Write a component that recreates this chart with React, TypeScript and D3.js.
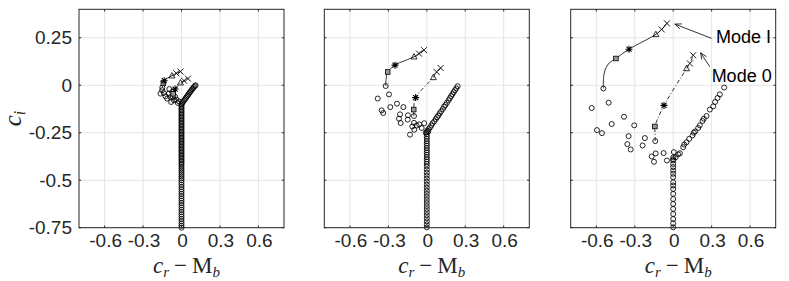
import * as d3 from "d3";
import { useEffect, useRef } from "react";

type Pt = [number, number];

const xTicks = [-0.6, -0.3, 0, 0.3, 0.6];
const xTickLabels = ["-0.6", "-0.3", "0", "0.3", "0.6"];
const yTicks = [0.25, 0, -0.25, -0.5, -0.75];
const yTickLabels = ["0.25", "0", "-0.25", "-0.5", "-0.75"];

// ---- panel 1 ----
const p1Scatter: Pt[] = [
  [-0.151, -0.026], [-0.164, -0.044], [-0.138, -0.041], [-0.125, -0.058], [-0.099, -0.044],
  [-0.086, -0.062], [-0.073, -0.035], [-0.06, -0.079], [-0.081, -0.088], [-0.039, -0.076],
  [-0.029, -0.093], [-0.112, -0.07], [-0.05, -0.06], [-0.02, -0.085], [-0.095, -0.02],
];
const p1StemY = [
  -0.1, -0.108, -0.116, -0.124, -0.132, -0.14, -0.148, -0.156, -0.164, -0.172, -0.18, -0.188,
  -0.196, -0.204, -0.212, -0.22, -0.228, -0.236, -0.244, -0.252, -0.26, -0.268, -0.276, -0.284,
  -0.292, -0.3, -0.308, -0.316, -0.324, -0.332, -0.34, -0.348, -0.356, -0.364, -0.372, -0.38,
  -0.388, -0.396, -0.404, -0.412, -0.42, -0.43, -0.44, -0.45, -0.46, -0.47, -0.48, -0.49, -0.5,
  -0.512, -0.524, -0.536, -0.548, -0.56, -0.572, -0.584, -0.596, -0.608, -0.62, -0.632, -0.644,
  -0.656, -0.668, -0.68, -0.692, -0.704, -0.716, -0.728, -0.74, -0.75,
];
const p1Branch: Pt[] = [
  [0.005, -0.094], [0.012, -0.088], [0.02, -0.08], [0.027, -0.074], [0.034, -0.067], [0.041, -0.06],
  [0.048, -0.054], [0.055, -0.047], [0.062, -0.04], [0.069, -0.034], [0.076, -0.028], [0.083, -0.021],
  [0.09, -0.015], [0.097, -0.009], [0.104, -0.004], [0.11, 0.0],
];
// circle, square, star, triangle, x, x
const p1ModeI: Pt[] = [[-0.15, -0.012], [-0.142, 0.01], [-0.135, 0.024], [-0.075, 0.05], [-0.04, 0.063], [-0.008, 0.072]];
const p1ModeIPath: Pt[] = p1ModeI;
const p1Mode0: Pt[] = [[-0.068, -0.062], [-0.065, -0.045], [-0.05, -0.02], [-0.008, 0.013], [0.02, 0.024], [0.05, 0.035]];
const p1Mode0Path: Pt[] = p1Mode0;

// ---- panel 2 ----
const p2Scatter: Pt[] = [
  [-0.383, -0.07], [-0.295, -0.048], [-0.352, -0.132], [-0.34, -0.146], [-0.285, -0.115],
  [-0.233, -0.097], [-0.183, -0.115], [-0.209, -0.153], [-0.217, -0.176], [-0.204, -0.199],
  [-0.147, -0.158], [-0.149, -0.181], [-0.1, -0.198], [-0.059, -0.206], [-0.02, -0.2],
  [-0.113, -0.217], [-0.131, -0.26], [-0.098, -0.234], [-0.04, -0.225], [-0.08, -0.212],
];
const p2StemY = [
  -0.258, -0.27, -0.282, -0.294, -0.306, -0.318, -0.33, -0.342, -0.354, -0.366, -0.378, -0.39,
  -0.402, -0.414, -0.428, -0.444, -0.46, -0.476, -0.492, -0.508, -0.524, -0.54, -0.556, -0.572,
  -0.588, -0.604, -0.62, -0.636, -0.652, -0.668, -0.684, -0.7, -0.716, -0.732, -0.748,
];
const p2Branch: Pt[] = [
  [-0.008, -0.25], [0.0, -0.247], [0.012, -0.243], [0.005, -0.238], [0.015, -0.23], [0.025, -0.222],
  [0.035, -0.212], [0.045, -0.2], [0.058, -0.19], [0.07, -0.178], [0.08, -0.168], [0.09, -0.16],
  [0.1, -0.148], [0.112, -0.137], [0.125, -0.125], [0.135, -0.113], [0.145, -0.104], [0.157, -0.092],
  [0.17, -0.079], [0.18, -0.068], [0.19, -0.057], [0.2, -0.047], [0.21, -0.036], [0.22, -0.026],
  [0.23, -0.016], [0.241, -0.005],
];
const p2ModeI: Pt[] = [[-0.321, -0.004], [-0.305, 0.07], [-0.248, 0.106], [-0.1, 0.15], [-0.061, 0.167], [-0.022, 0.185]];
const p2ModeIPath: Pt[] = [[-0.321, -0.004], [-0.317, 0.035], [-0.305, 0.07], [-0.248, 0.106], [-0.1, 0.15], [-0.061, 0.167], [-0.022, 0.185]];
const p2Mode0: Pt[] = [[-0.1, -0.162], [-0.102, -0.128], [-0.087, -0.065], [0.051, 0.041], [0.077, 0.07], [0.108, 0.091]];
const p2Mode0Path: Pt[] = p2Mode0;

// ---- panel 3 ----
const p3Scatter: Pt[] = [
  [-0.636, -0.12], [-0.504, -0.092], [-0.384, -0.166], [-0.48, -0.204], [-0.304, -0.211],
  [-0.595, -0.236], [-0.556, -0.252], [-0.348, -0.268], [-0.358, -0.31], [-0.332, -0.338],
  [-0.221, -0.278], [-0.239, -0.317], [-0.168, -0.375], [-0.15, -0.403], [-0.137, -0.359],
  [-0.075, -0.357], [-0.049, -0.396], [0.005, -0.352],
];
const p3StemY = [
  -0.38, -0.39, -0.414, -0.431, -0.449, -0.466, -0.484, -0.511, -0.528, -0.546, -0.572, -0.599,
  -0.625, -0.651, -0.678, -0.704, -0.727, -0.748,
];
const p3Branch: Pt[] = [
  [0.0, -0.396], [0.019, -0.379], [0.039, -0.364], [0.052, -0.358], [0.078, -0.326], [0.086, -0.312],
  [0.104, -0.3], [0.125, -0.282], [0.151, -0.264], [0.161, -0.25], [0.171, -0.243], [0.195, -0.225],
  [0.208, -0.211], [0.229, -0.188], [0.239, -0.176], [0.26, -0.162], [0.286, -0.128], [0.312, -0.111],
  [0.327, -0.088], [0.346, -0.067], [0.364, -0.048], [0.398, -0.012],
];
const p3ModeI: Pt[] = [[-0.545, -0.017], [-0.447, 0.141], [-0.345, 0.19], [-0.135, 0.268], [-0.09, 0.294], [-0.049, 0.326]];
const p3ModeIPath: Pt[] = [
  [-0.545, -0.017], [-0.544, 0.035], [-0.532, 0.08], [-0.5, 0.117], [-0.447, 0.141], [-0.345, 0.19],
  [-0.135, 0.268], [-0.09, 0.294], [-0.049, 0.326],
];
const p3Mode0: Pt[] = [[-0.14, -0.294], [-0.143, -0.217], [-0.072, -0.106], [0.104, 0.088], [0.13, 0.115], [0.156, 0.158]];
const p3Mode0Path: Pt[] = [
  [-0.14, -0.294], [-0.142, -0.25], [-0.143, -0.217], [-0.11, -0.16], [-0.072, -0.106], [0.104, 0.088],
  [0.13, 0.115], [0.156, 0.158],
];

// annotation labels (panel 3), in data units
const annLabels = ["Mode I", "Mode 0"];
const annTails: Pt[] = [[0.299, 0.247], [0.286, 0.097]];
const annTips: Pt[] = [[0.013, 0.322], [0.214, 0.171]];
const annText: Pt[] = [[0.334, 0.22], [0.3, 0.017]];

const panels = [
  { left: 79, scatter: p1Scatter, stem: p1StemY, branch: p1Branch, mI: p1ModeI, mIPath: p1ModeIPath, m0: p1Mode0, m0Path: p1Mode0Path },
  { left: 324.3, scatter: p2Scatter, stem: p2StemY, branch: p2Branch, mI: p2ModeI, mIPath: p2ModeIPath, m0: p2Mode0, m0Path: p2Mode0Path },
  { left: 570.7, scatter: p3Scatter, stem: p3StemY, branch: p3Branch, mI: p3ModeI, mIPath: p3ModeIPath, m0: p3Mode0, m0Path: p3Mode0Path },
];

const W = 789;
const H = 281;
const top = 9.3;
const bottom = 227.7;
const pw = 205;
const axisColor = "#262626";
const font = "'Liberation Sans', Arial, sans-serif";
const serif = "'Liberation Serif', 'Times New Roman', serif";

export default function App() {
  const ref = useRef<SVGSVGElement>(null);

  useEffect(() => {
    const svg = d3.select(ref.current);
    svg.selectAll("*").remove();

    panels.forEach((p, pi) => {
      const x = d3.scaleLinear().domain([-0.8, 0.8]).range([p.left, p.left + pw]);
      const y = d3.scaleLinear().domain([-0.75, 0.4]).range([bottom, top]);
      const g = svg.append("g");

      // grid
      g.selectAll(".gx").data(xTicks).join("line")
        .attr("x1", d => x(d)).attr("x2", d => x(d)).attr("y1", top).attr("y2", bottom)
        .attr("stroke", "#e4e4e4").attr("stroke-width", 1);
      g.selectAll(".gy").data(yTicks).join("line")
        .attr("x1", p.left).attr("x2", p.left + pw).attr("y1", d => y(d)).attr("y2", d => y(d))
        .attr("stroke", "#e4e4e4").attr("stroke-width", 1);

      const line = d3.line<Pt>().x(d => x(d[0])).y(d => y(d[1])).curve(d3.curveCatmullRom);

      // mode paths
      g.append("path").attr("d", line(p.mIPath)).attr("fill", "none")
        .attr("stroke", "#000").attr("stroke-width", 0.8);
      g.append("path").attr("d", line(p.m0Path)).attr("fill", "none")
        .attr("stroke", "#000").attr("stroke-width", 0.8).attr("stroke-dasharray", "4,2,1,2");

      // circles
      const circles: Pt[] = [
        ...p.scatter,
        ...p.stem.map((v): Pt => [0, v]),
        ...p.branch,
        p.mI[0],
        p.m0[0],
      ];
      g.selectAll(".c").data(circles).join("circle")
        .attr("cx", d => x(d[0])).attr("cy", d => y(d[1])).attr("r", 2.5)
        .attr("fill", "none").attr("stroke", "#000").attr("stroke-width", 0.85);

      // other markers
      [p.mI, p.m0].forEach(m => {
        const [, sq, st, tr, x1, x2] = m;
        g.append("rect").attr("x", x(sq[0]) - 2.3).attr("y", y(sq[1]) - 2.3)
          .attr("width", 4.6).attr("height", 4.6)
          .attr("fill", "#999").attr("stroke", "#000").attr("stroke-width", 0.8);
        const sx = x(st[0]), sy = y(st[1]);
        g.append("path")
          .attr("d", `M${sx - 3.5},${sy}H${sx + 3.5}M${sx},${sy - 3.5}V${sy + 3.5}M${sx - 2.5},${sy - 2.5}L${sx + 2.5},${sy + 2.5}M${sx - 2.5},${sy + 2.5}L${sx + 2.5},${sy - 2.5}`)
          .attr("stroke", "#000").attr("stroke-width", 1.1);
        const tx = x(tr[0]), ty = y(tr[1]);
        g.append("path")
          .attr("d", `M${tx},${ty - 3.2}L${tx + 3},${ty + 2.2}L${tx - 3},${ty + 2.2}Z`)
          .attr("fill", "none").attr("stroke", "#000").attr("stroke-width", 0.8);
        [x1, x2].forEach(c => {
          const cx = x(c[0]), cy = y(c[1]);
          g.append("path")
            .attr("d", `M${cx - 3},${cy - 3}L${cx + 3},${cy + 3}M${cx - 3},${cy + 3}L${cx + 3},${cy - 3}`)
            .attr("stroke", "#000").attr("stroke-width", 0.9);
        });
      });

      // box
      g.append("rect").attr("x", p.left).attr("y", top).attr("width", pw).attr("height", bottom - top)
        .attr("fill", "none").attr("stroke", axisColor).attr("stroke-width", 1);
      // ticks
      const tl = 2.2;
      g.selectAll(".tx").data(xTicks).join("path")
        .attr("d", d => `M${x(d)},${bottom}v${-tl}M${x(d)},${top}v${tl}`)
        .attr("stroke", axisColor);
      g.selectAll(".ty").data(yTicks).join("path")
        .attr("d", d => `M${p.left},${y(d)}h${tl}M${p.left + pw},${y(d)}h${-tl}`)
        .attr("stroke", axisColor);

      // tick labels
      g.selectAll(".xl").data(xTicks).join("text")
        .attr("x", d => x(d) + 1).attr("y", 246.7).attr("text-anchor", "middle")
        .attr("font-family", font).attr("font-size", 19).attr("fill", axisColor)
        .text((d, i) => xTickLabels[i]);
      if (pi === 0) {
        g.selectAll(".yl").data(yTicks).join("text")
          .attr("x", p.left - 7).attr("y", d => y(d) + 6.7).attr("text-anchor", "end")
          .attr("font-family", font).attr("font-size", 19).attr("fill", axisColor)
          .text((d, i) => yTickLabels[i]);
        const yl = g.append("text")
          .attr("transform", `translate(21,${(top + bottom) / 2}) rotate(-90)`)
          .attr("text-anchor", "middle").attr("font-family", serif).attr("font-size", 25).attr("fill", axisColor);
        yl.append("tspan").attr("font-style", "italic").text("c");
        yl.append("tspan").attr("font-style", "italic").attr("font-size", 16).attr("dy", 4).text("i");
      }

      // x label
      const xl = g.append("text").attr("x", p.left + pw / 2 + 5).attr("y", 273)
        .attr("text-anchor", "middle").attr("font-family", serif).attr("font-size", 23).attr("fill", axisColor);
      xl.append("tspan").attr("font-style", "italic").text("c");
      xl.append("tspan").attr("font-style", "italic").attr("font-size", 15).attr("dy", 3.5).text("r");
      xl.append("tspan").attr("dy", -3.5).attr("dx", 5).text("\u2212");
      xl.append("tspan").attr("dx", 5).text("M");
      xl.append("tspan").attr("font-style", "italic").attr("font-size", 15).attr("dy", 3.5).text("b");

      // annotations (panel 3)
      if (pi === 2) {
        annLabels.forEach((label, i) => {
          const x0 = x(annTails[i][0]), y0 = y(annTails[i][1]);
          const x1 = x(annTips[i][0]), y1 = y(annTips[i][1]);
          const ang = Math.atan2(y1 - y0, x1 - x0);
          const hl = 7, hw = 0.4;
          g.append("line").attr("x1", x0).attr("y1", y0).attr("x2", x1).attr("y2", y1)
            .attr("stroke", "#000").attr("stroke-width", 0.8);
          g.append("path")
            .attr("d", `M${x1 - hl * Math.cos(ang - hw)},${y1 - hl * Math.sin(ang - hw)}L${x1},${y1}L${x1 - hl * Math.cos(ang + hw)},${y1 - hl * Math.sin(ang + hw)}`)
            .attr("fill", "none").attr("stroke", "#000").attr("stroke-width", 0.8);
          g.append("text").attr("x", x(annText[i][0])).attr("y", y(annText[i][1]))
            .attr("font-family", font).attr("font-size", 18).attr("fill", "#000").text(label);
        });
      }
    });
  }, []);

  return (
    <svg ref={ref} width={W} height={H} viewBox={`0 0 ${W} ${H}`}
      style={{ position: "absolute", left: 0, top: 0, background: "#fff" }} />
  );
}
